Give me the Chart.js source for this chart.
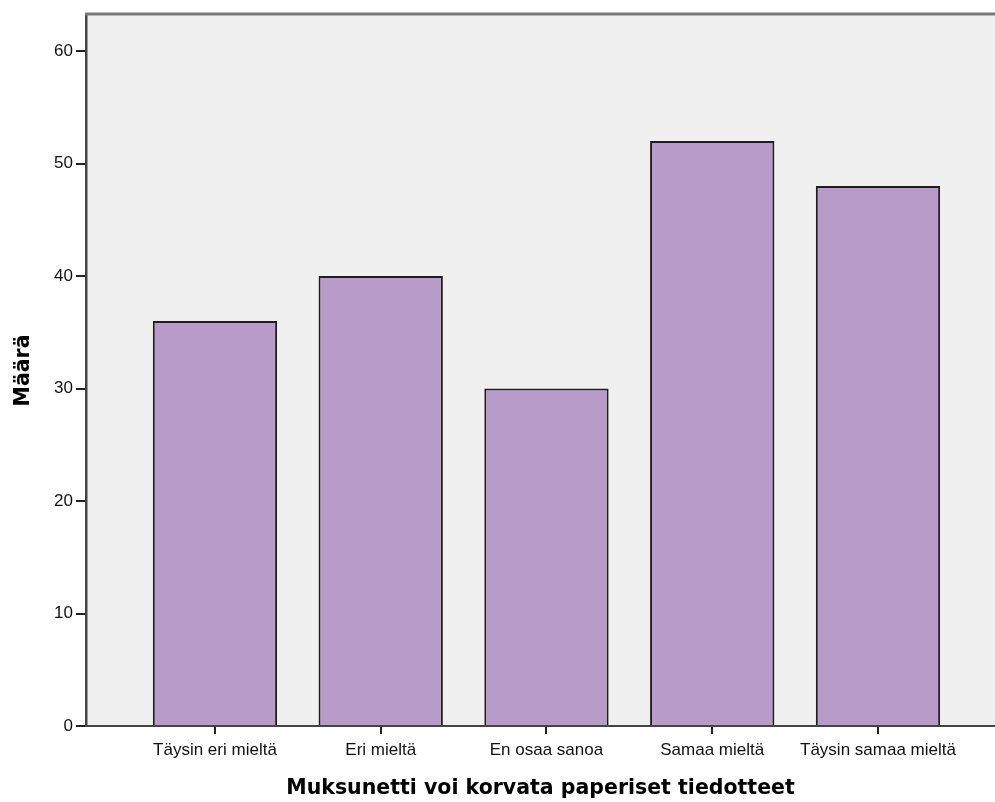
<!DOCTYPE html>
<html>
<head>
<meta charset="utf-8">
<script src="https://cdn.jsdelivr.net/npm/chart.js@4"></script>
<style>
  html, body { margin: 0; padding: 0; background: #fff; overflow: hidden; }
</style>
</head>
<body>
<canvas id="chart" width="995" height="802"></canvas>
<script>
// data
const categories = ['Täysin eri mieltä', 'Eri mieltä', 'En osaa sanoa', 'Samaa mieltä', 'Täysin samaa mieltä'];
const counts = [36, 40, 30, 52, 48];
const yTicks = [0, 10, 20, 30, 40, 50, 60];

const xTitle = 'Muksunetti voi korvata paperiset tiedotteet';
const yTitle = 'Määrä';

// plot background + top frame line
const frame = {
    id: 'frame',
    beforeDraw(chart) {
        const { ctx, chartArea } = chart;
        ctx.save();
        ctx.fillStyle = '#f0f0f0';
        ctx.fillRect(chartArea.left, chartArea.top, chartArea.right - chartArea.left, chartArea.bottom - chartArea.top);
        ctx.restore();
    },
    afterDraw(chart) {
        const { ctx, chartArea } = chart;
        ctx.save();
        ctx.strokeStyle = '#7a7a7a';
        ctx.lineWidth = 3;
        ctx.beginPath();
        ctx.moveTo(chartArea.left - 1, chartArea.top - 1);
        ctx.lineTo(chartArea.right, chartArea.top - 1);
        ctx.stroke();
        ctx.restore();
    }
};

const tickFont = { family: '"Liberation Sans", Arial, sans-serif', size: 17 };
const titleFont = { family: '"DejaVu Sans", sans-serif', size: 20.5, weight: 'bold' };

new Chart(document.getElementById('chart'), {
    type: 'bar',
    data: {
        datasets: [{
            data: counts.map((v, i) => ({ x: i, y: v })),
            backgroundColor: '#b89bc9',
            borderColor: '#1e1e1e',
            borderWidth: 2,
            categoryPercentage: 1,
            barPercentage: 0.75
        }]
    },
    options: {
        responsive: false,
        animation: false,
        events: [],
        layout: { padding: { top: 15, right: 0 } },
        plugins: {
            legend: { display: false },
            tooltip: { enabled: false }
        },
        scales: {
            x: {
                type: 'linear',
                offset: false,
                min: -0.778,
                max: 4.706,
                afterFit(scale) { scale.height = 76; },
                afterBuildTicks(scale) { scale.ticks = categories.map((c, i) => ({ value: i })); },
                ticks: {
                    autoSkip: false,
                    maxRotation: 0,
                    padding: 6,
                    color: '#111',
                    font: tickFont,
                    callback: (v) => categories[v]
                },
                grid: { offset: false, drawOnChartArea: false, drawTicks: true, tickLength: 8, color: '#222', lineWidth: 2 },
                border: { display: true, color: '#444', width: 2 },
                title: { display: true, text: xTitle, color: '#000', font: titleFont, padding: { top: 0, bottom: 1 } }
            },
            y: {
                min: 0,
                max: 63.2,
                afterFit(scale) { scale.width = 86; },
                afterBuildTicks(scale) { scale.ticks = yTicks.map(v => ({ value: v })); },
                ticks: { padding: 3, color: '#111', font: tickFont },
                grid: { drawOnChartArea: false, drawTicks: true, tickLength: 10, color: '#222', lineWidth: 2 },
                border: { display: true, color: '#444', width: 2.5 },
                title: { display: true, text: yTitle, color: '#000', font: titleFont, padding: { top: 11, bottom: 0 } }
            }
        }
    },
    plugins: [frame]
});
</script>
</body>
</html>
